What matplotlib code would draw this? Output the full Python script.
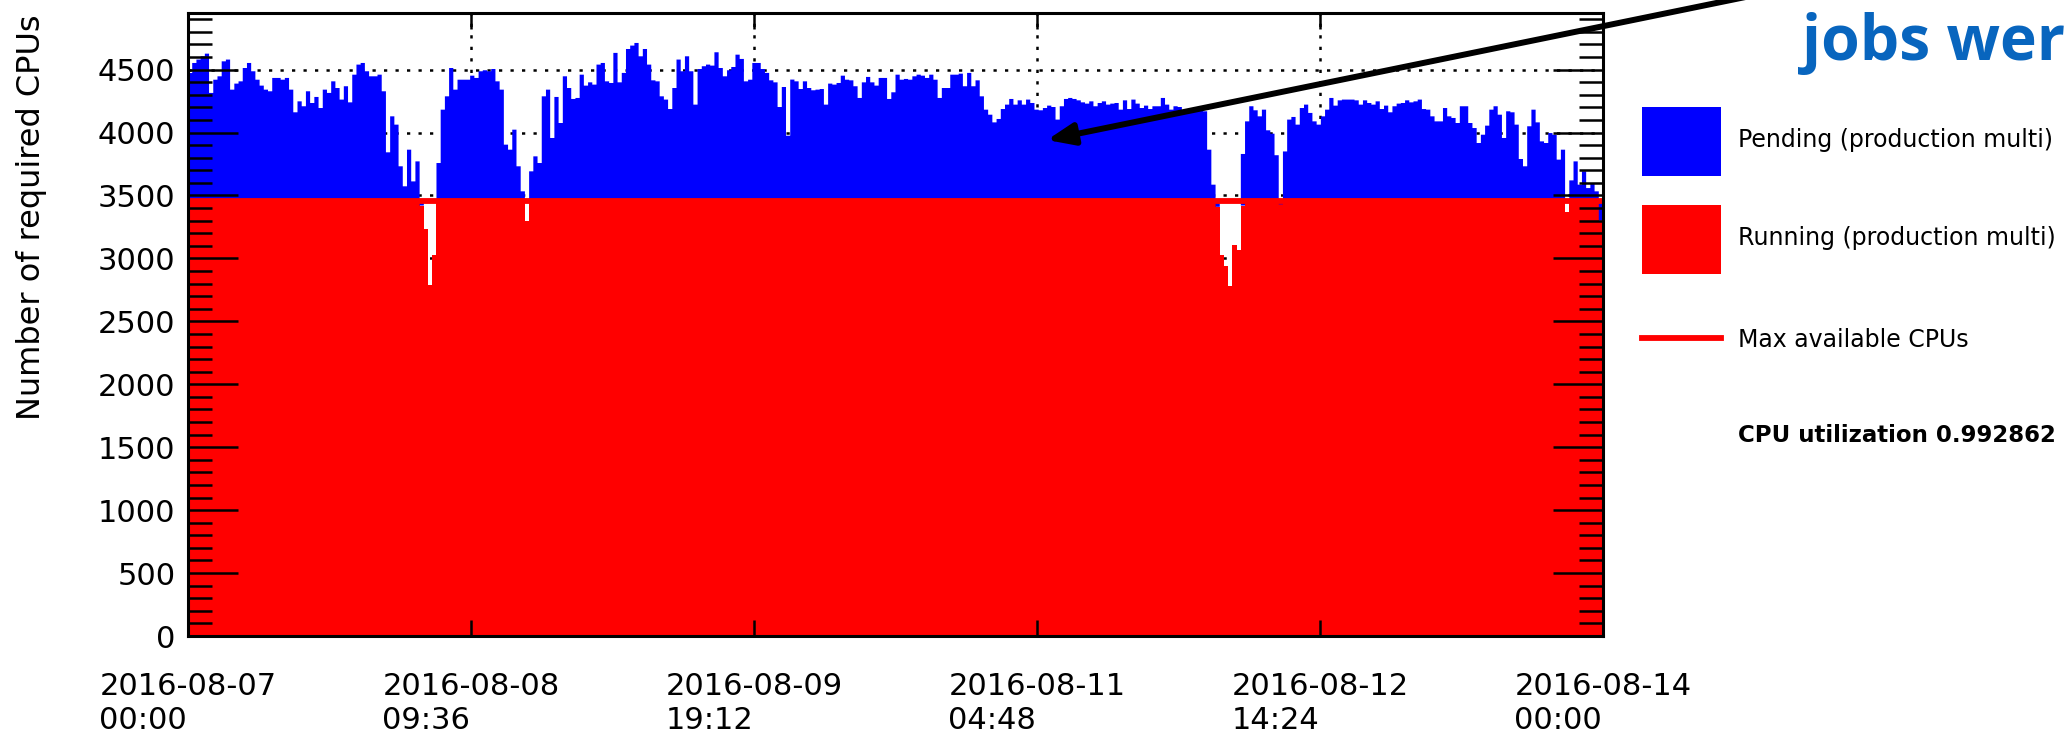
import numpy as np
import pandas as pd
import matplotlib
matplotlib.use('Agg')
from matplotlib import pyplot as plt
import matplotlib.dates as mdates
from matplotlib.patches import Rectangle, FancyArrowPatch
from matplotlib.lines import Line2D
from matplotlib.ticker import MultipleLocator

plt.rcParams['font.family'] = ['DejaVu Sans']

# ---- data, 30 min bins ----
start = pd.Timestamp('2016-08-07 00:00')
end = pd.Timestamp('2016-08-14 00:00')
max_cpus = 3456
cpu_utilization = 0.992862

# total required CPUs (running + pending) per bin
# 08-07 00:00 -> 08-08 09:36
total_part1 = [4473, 4553, 4580, 4606, 4627, 4315, 4420, 4447, 4566, 4580,
               4341, 4389, 4407, 4513, 4553, 4487, 4420, 4373, 4341, 4328,
               4434, 4434, 4420, 4434, 4341, 4161, 4248, 4209, 4328, 4235,
               4283, 4195, 4341, 4315, 4407, 4354, 4262, 4368, 4240, 4460,
               4540, 4553, 4487, 4447, 4447, 4460, 4328, 3843, 4129, 4063,
               3732, 3573, 3864, 3612, 3771, 3440, 3233, 2790, 3030, 3758,
               4182, 4288, 4513, 4341, 4420, 4420, 4420]
# 08-08 09:36 -> 08-09 19:12
total_part2 = [4452, 4434, 4487, 4495, 4487, 4505, 4407, 4341, 3904, 3864,
               4023, 3732, 3533, 3300, 3692, 3811, 3758, 4288, 4341, 3957,
               4283, 4076, 4447, 4354, 4267, 4275, 4460, 4373, 4399, 4381,
               4540, 4553, 4407, 4394, 4633, 4399, 4474, 4664, 4691, 4712,
               4606, 4664, 4540, 4415, 4407, 4288, 4262, 4187, 4354, 4580,
               4487, 4606, 4487, 4222, 4505, 4527, 4540, 4532, 4638, 4513,
               4447, 4495, 4521, 4619, 4585, 4407, 4420]
# 08-09 19:12 -> 08-11 04:48
total_part3 = [4553, 4553, 4505, 4474, 4415, 4399, 4203, 4362, 3975, 4421,
               4407, 4346, 4407, 4354, 4336, 4341, 4346, 4222, 4389, 4381,
               4394, 4452, 4420, 4415, 4368, 4275, 4399, 4442, 4399, 4373,
               4434, 4434, 4267, 4320, 4460, 4420, 4426, 4420, 4447, 4460,
               4452, 4434, 4460, 4420, 4275, 4354, 4354, 4460, 4460, 4468,
               4368, 4474, 4368, 4415, 4288, 4182, 4142, 4081, 4108, 4187,
               4222, 4267, 4222, 4256, 4222, 4262, 4235]
# 08-11 04:48 -> 08-12 14:24
total_part4 = [4182, 4177, 4195, 4214, 4203, 4103, 4209, 4267, 4275, 4267,
               4256, 4240, 4230, 4248, 4209, 4235, 4248, 4222, 4230, 4235,
               4182, 4256, 4187, 4262, 4230, 4195, 4214, 4187, 4209, 4209,
               4275, 4222, 4182, 4209, 4203, 4169, 4177, 4182, 4169, 4182,
               4169, 3864, 3586, 3440, 3029, 2937, 2778, 3109, 3069, 3830,
               4089, 4209, 4177, 4129, 4182, 4018, 3991, 3820, 3460, 3850,
               4103, 4124, 4063, 4195, 4222, 4156, 4089]
# 08-12 14:24 -> 08-14 00:00
total_part5 = [4063, 4129, 4182, 4275, 4214, 4256, 4262, 4262, 4262, 4256,
               4222, 4256, 4235, 4222, 4248, 4187, 4214, 4161, 4209, 4230,
               4235, 4256, 4240, 4248, 4262, 4187, 4182, 4129, 4089, 4089,
               4195, 4129, 4116, 4076, 4209, 4209, 4076, 4036, 3917, 3983,
               4055, 4182, 4209, 4142, 3957, 4169, 4161, 4063, 3790, 3732,
               4050, 4182, 4081, 3930, 3917, 3996, 3983, 3785, 3864, 3370,
               3620, 3771, 3586, 3692, 3559, 3599, 3533, 3440]

# running CPUs sit at max_cpus except in these bins
running_dips = {55: 3420, 56: 3233, 57: 2790, 58: 3030, 80: 3300,
                244: 3410, 245: 3029, 246: 2937, 247: 2778, 248: 3109,
                249: 3069, 250: 3420, 259: 3430, 327: 3370, 335: 3300}

legend_labels = ['Pending (production multi)', 'Running (production multi)',
                 'Max available CPUs']

total = np.array(total_part1 + total_part2 + total_part3 + total_part4 + total_part5, float)
n_bins = len(total)
running = np.full(n_bins, float(max_cpus))
for i, v in running_dips.items():
    running[i] = v

edges = mdates.date2num(pd.date_range(start, end, periods=n_bins + 1))
tick_dates = pd.date_range(start, end, periods=6)

# ---- figure ----
W, H = 2064, 735
fig = plt.figure(figsize=(W / 100, H / 100), dpi=100)
fx = lambda x: x / W
fy = lambda y: 1 - y / H
ax = fig.add_axes([fx(188), fy(636), (1603 - 188) / W, (636 - 13) / H])

ax.stairs(running, edges, baseline=0, fill=True, color='#ff0000', lw=0, zorder=1)
ax.stairs(total, edges, baseline=running, fill=True, color='#0000ff', lw=0, zorder=1)
ax.axhline(max_cpus, color='#ff0000', lw=4.2, zorder=1.2)

ax.set_xlim(edges[0], edges[-1])
ax.set_ylim(0, 4950)
ax.yaxis.set_major_locator(MultipleLocator(500))
ax.yaxis.set_minor_locator(MultipleLocator(100))
xt = mdates.date2num(tick_dates)
ax.set_xticks(xt)
labels = ax.set_xticklabels([d.strftime('%Y-%m-%d\n%H:%M') for d in tick_dates])
for t in labels:
    t.set_multialignment('left')

# dotted grid under the histograms
grid_kw = dict(color='black', lw=1.8, linestyle=(0, (1.3, 3.3)), zorder=0.5)
for y in ax.get_yticks():
    if 0 < y < 4950:
        ax.axhline(y, **grid_kw)
for x in xt[1:-1]:
    ax.axvline(x, **grid_kw)

ax.tick_params(which='both', direction='in', top=True, right=True,
               labelsize=22, width=1.8, color='black')
ax.tick_params(axis='y', which='major', length=36, pad=9)
ax.tick_params(axis='y', which='minor', length=17)
ax.tick_params(axis='x', which='major', length=11.5, pad=26)
ax.tick_params(axis='x', which='minor', length=0)
for s in ax.spines.values():
    s.set_linewidth(2.2)
    s.set_zorder(3)

fig.text(fx(32), fy(14), 'Number of required CPUs', rotation=90,
         ha='center', va='top', fontsize=23)

# legend drawn at the right side
fig.add_artist(Rectangle((fx(1642), fy(176)), 79 / W, 69 / H,
                         transform=fig.transFigure, color='#0000ff', lw=0))
fig.add_artist(Rectangle((fx(1642), fy(274)), 79 / W, 69 / H,
                         transform=fig.transFigure, color='#ff0000', lw=0))
fig.add_artist(Line2D([fx(1642), fx(1721)], [fy(338), fy(338)],
                      transform=fig.transFigure, color='#ff0000', lw=4.2))
for lab, yy in zip(legend_labels, [140, 238, 340]):
    fig.text(fx(1738), fy(yy), lab, ha='left', va='center', fontsize=17)
fig.text(fx(1738), fy(436), 'CPU utilization %g' % cpu_utilization,
         ha='left', va='center', fontsize=16.5, weight='bold')

# slide overlay: annotation text and arrow
fig.text(fx(1802), fy(60), 'jobs wer', ha='left', va='baseline',
         family=['Open Sans', 'DejaVu Sans'], weight='bold', fontsize=45,
         color='#0865be')
fig.add_artist(FancyArrowPatch((fx(1770), fy(-8)), (fx(1047), fy(140)),
                               transform=fig.transFigure,
                               arrowstyle='-|>,head_length=1.6,head_width=0.65',
                               mutation_scale=10, lw=4.3, color='black',
                               shrinkA=0, shrinkB=0, zorder=5))

fig.savefig('out.png', dpi=100)
